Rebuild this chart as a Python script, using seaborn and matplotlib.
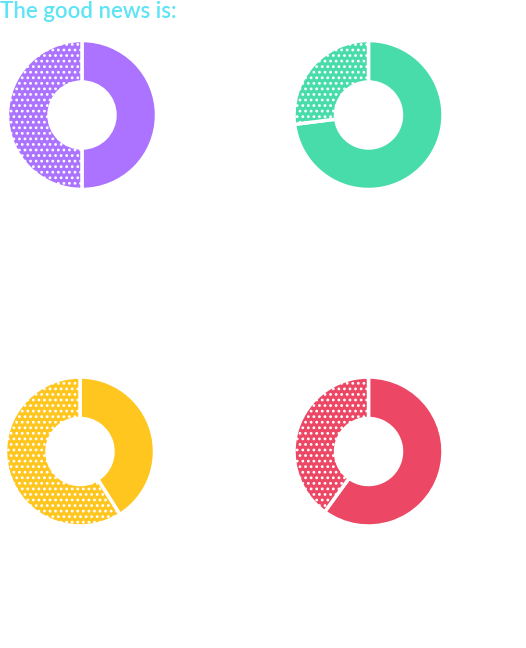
import matplotlib
matplotlib.use("Agg")
import matplotlib.pyplot as plt
import seaborn as sns

title = "The good news is:"
charts = ["purple", "green", "yellow", "red"]
solid_share = [50, 73, 41, 60]
colors = ["#ab73ff", "#48dcab", "#ffc61f", "#ec4764"]
centers_px = [(82, 115), (368.5, 115), (80, 451.5), (368.5, 451.5)]

sns.set_theme(style="white")
plt.rcParams["font.family"] = ["Lato", "DejaVu Sans"]
plt.rcParams["hatch.linewidth"] = 1.2

W, H = 526, 648
R = 74.5
fig = plt.figure(figsize=(W / 100, H / 100), dpi=100)
fig.patch.set_facecolor("white")

for share, col, (cx, cy) in zip(solid_share, colors, centers_px):
    ax = fig.add_axes([(cx - R) / W, (H - cy - R) / H, 2 * R / W, 2 * R / H])
    wedges, _ = ax.pie([share, 100 - share], colors=[col, col], startangle=90,
                       counterclock=False, radius=1,
                       wedgeprops=dict(width=41.5 / 74.5, edgecolor="white", linewidth=2.5))
    wedges[1].set_hatch("...")
    ax.set_xlim(-1, 1)
    ax.set_ylim(-1, 1)
    ax.set_aspect("equal")
    ax.axis("off")

fig.text(0.0, 1 - 1 / H, title, color="#5de4f5", fontsize=16, fontweight="semibold",
         ha="left", va="top")

fig.savefig("out.png", dpi=100, facecolor="white")
